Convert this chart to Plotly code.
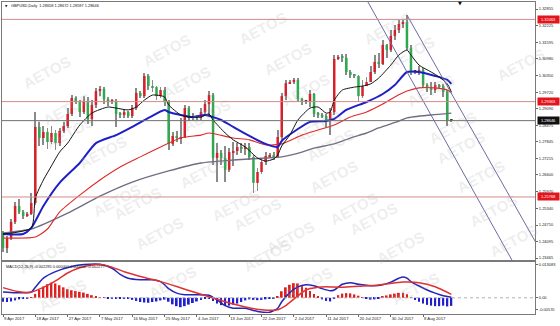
import plotly.graph_objects as go

# ---------------- data ----------------
tick_idx = [0, 8, 16, 24, 32, 40, 48, 56, 64, 72, 80, 88, 96, 104]
tick_text = ["9 Apr 2017", "18 Apr 2017", "27 Apr 2017", "7 May 2017", "16 May 2017",
             "25 May 2017", "4 Jun 2017", "13 Jun 2017", "22 Jun 2017", "2 Jul 2017",
             "11 Jul 2017", "20 Jul 2017", "30 Jul 2017", "8 Aug 2017"]

first_open = 1.2441
closes = [1.2384, 1.2422, 1.2483, 1.2543, 1.2520, 1.2505, 1.2513, 1.2554, 1.2841, 1.2799,
          1.2822, 1.2784, 1.2818, 1.2780, 1.2826, 1.2844, 1.2890, 1.2950, 1.2935, 1.2897,
          1.2939, 1.2871, 1.2924, 1.2976, 1.2984, 1.2946, 1.2935, 1.2939, 1.2890, 1.2886,
          1.2897, 1.2882, 1.2912, 1.2969, 1.2957, 1.3033, 1.2995, 1.2991, 1.2957, 1.2980,
          1.2935, 1.2777, 1.2807, 1.2799, 1.2803, 1.2912, 1.2875, 1.2882, 1.2875, 1.2897,
          1.2927, 1.2961, 1.2724, 1.2743, 1.2724, 1.2679, 1.2746, 1.2750, 1.2765, 1.2758,
          1.2765, 1.2728, 1.2630, 1.2671, 1.2709, 1.2731, 1.2735, 1.2728, 1.2803, 1.2957,
          1.3006, 1.3010, 1.3018, 1.2946, 1.2935, 1.2935, 1.2965, 1.2890, 1.2886, 1.2882,
          1.2863, 1.2897, 1.3097, 1.3105, 1.3101, 1.3048, 1.3037, 1.3033, 1.2957, 1.2995,
          1.3010, 1.3048, 1.3086, 1.3078, 1.3150, 1.3131, 1.3184, 1.3206, 1.3229, 1.3236,
          1.3138, 1.3048, 1.3048, 1.3056, 1.2999, 1.2988, 1.2980, 1.2999, 1.2995, 1.2973,
          1.28658, 1.28646]
highs = [1.2449, 1.2430, 1.2494, 1.2558, 1.2569, 1.2528, 1.2520, 1.2592, 1.2897, 1.2860,
         1.2844, 1.2837, 1.2844, 1.2829, 1.2837, 1.2860, 1.2912, 1.2961, 1.2957, 1.2942,
         1.2957, 1.2954, 1.2942, 1.2988, 1.2995, 1.2991, 1.2954, 1.2946, 1.2946, 1.2897,
         1.2908, 1.2901, 1.2924, 1.2988, 1.2976, 1.3044, 1.3040, 1.3018, 1.2995, 1.2991,
         1.2991, 1.2942, 1.2822, 1.2826, 1.2875, 1.2924, 1.2920, 1.2893, 1.2886, 1.2912,
         1.2942, 1.2976, 1.2969, 1.2780, 1.2754, 1.2769, 1.2761, 1.2784, 1.2780, 1.2780,
         1.2780, 1.2780, 1.2735, 1.2686, 1.2724, 1.2746, 1.2743, 1.2746, 1.2829, 1.2969,
         1.3018, 1.3018, 1.3025, 1.3025, 1.2950, 1.2942, 1.2980, 1.2969, 1.2897, 1.2893,
         1.2890, 1.2912, 1.3112, 1.3112, 1.3116, 1.3116, 1.3056, 1.3040, 1.3037, 1.3018,
         1.3029, 1.3071, 1.3112, 1.3120, 1.3169, 1.3154, 1.3206, 1.3225, 1.3244, 1.3244,
         1.3263, 1.3150, 1.3056, 1.3071, 1.3063, 1.3006, 1.3010, 1.3010, 1.3003, 1.3003,
         1.2980, 1.28672]
lows = [1.2369, 1.2366, 1.2415, 1.2475, 1.2513, 1.2494, 1.2501, 1.2509, 1.2547, 1.2769,
        1.2773, 1.2758, 1.2777, 1.2754, 1.2769, 1.2818, 1.2837, 1.2882, 1.2927, 1.2878,
        1.2890, 1.2852, 1.2844, 1.2912, 1.2957, 1.2927, 1.2920, 1.2927, 1.2841, 1.2875,
        1.2875, 1.2875, 1.2875, 1.2905, 1.2950, 1.2950, 1.2980, 1.2973, 1.2942, 1.2950,
        1.2920, 1.2754, 1.2769, 1.2784, 1.2777, 1.2799, 1.2863, 1.2867, 1.2867, 1.2867,
        1.2882, 1.2886, 1.2697, 1.2633, 1.2697, 1.2633, 1.2671, 1.2694, 1.2735, 1.2743,
        1.2735, 1.2716, 1.2592, 1.2599, 1.2663, 1.2697, 1.2728, 1.2716, 1.2724, 1.2792,
        1.2942, 1.3003, 1.3003, 1.2935, 1.2924, 1.2927, 1.2916, 1.2878, 1.2875, 1.2875,
        1.2837, 1.2810, 1.2886, 1.3093, 1.3086, 1.3037, 1.3025, 1.3025, 1.2935, 1.2950,
        1.2995, 1.3010, 1.3040, 1.3063, 1.3074, 1.3101, 1.3123, 1.3169, 1.3195, 1.3214,
        1.3131, 1.3037, 1.3040, 1.3037, 1.2988, 1.2973, 1.2961, 1.2969, 1.2988, 1.2954,
        1.2844, 1.28597]

black_i = [0, 7, 8, 10, 12, 14, 16, 19, 22, 26, 28, 31, 33, 35, 37, 40, 41, 44, 46, 49,
           51, 52, 55, 57, 60, 63, 65, 67, 68, 69, 71, 73, 76, 78, 80, 81, 82, 84, 87, 89,
           91, 93, 96, 98, 100, 101, 103, 106, 108, 110, 111]
black_v = [1.2437, 1.2460, 1.2573, 1.2641, 1.2694, 1.2746, 1.2780, 1.2848, 1.2893, 1.2916,
           1.2912, 1.2905, 1.2916, 1.2942, 1.2961, 1.2954, 1.2924, 1.2886, 1.2878, 1.2878,
           1.2890, 1.2867, 1.2818, 1.2792, 1.2765, 1.2724, 1.2712, 1.2720, 1.2735, 1.2769,
           1.2810, 1.2867, 1.2912, 1.2916, 1.2893, 1.2897, 1.2942, 1.2980, 1.2991, 1.2995,
           1.3003, 1.3025, 1.3074, 1.3112, 1.3131, 1.3112, 1.3074, 1.3048, 1.3029, 1.3003,
           1.2973]
blue_i = [0, 5, 7, 10, 14, 19, 23, 28, 32, 36, 40, 41, 44, 47, 50, 54, 57, 61, 65, 68,
          69, 73, 76, 80, 82, 85, 90, 94, 97, 100, 103, 107, 110, 111]
blue_v = [1.2437, 1.2437, 1.2460, 1.2543, 1.2630, 1.2705, 1.2780, 1.2810, 1.2841, 1.2875,
          1.2905, 1.2897, 1.2886, 1.2878, 1.2886, 1.2867, 1.2841, 1.2807, 1.2777, 1.2765,
          1.2788, 1.2833, 1.2860, 1.2863, 1.2871, 1.2905, 1.2935, 1.2965, 1.2999, 1.3048,
          1.3048, 1.3033, 1.3018, 1.3003]
red_i = [0, 8, 11, 14, 19, 24, 29, 34, 39, 44, 49, 51, 57, 61, 65, 69, 74, 78, 82, 86,
         90, 94, 97, 100, 103, 107, 110, 111]
red_v = [1.2422, 1.2426, 1.2456, 1.2520, 1.2584, 1.2641, 1.2690, 1.2728, 1.2765, 1.2799,
         1.2810, 1.2818, 1.2799, 1.2792, 1.2773, 1.2777, 1.2810, 1.2829, 1.2848, 1.2878,
         1.2897, 1.2927, 1.2954, 1.2976, 1.2988, 1.2988, 1.2980, 1.2969]
gray_i = [0, 7, 16, 24, 32, 41, 49, 57, 65, 69, 74, 77, 82, 86, 90, 93, 98, 100, 106, 111]
gray_v = [1.2441, 1.2456, 1.2516, 1.2580, 1.2633, 1.2675, 1.2705, 1.2716, 1.2724, 1.2728,
          1.2746, 1.2761, 1.2777, 1.2799, 1.2818, 1.2837, 1.2863, 1.2875, 1.2886, 1.2893]

macd_i = [0, 3, 7, 8, 10, 13, 17, 20, 24, 27, 29, 31, 34, 37, 39, 40, 41, 43, 45, 48,
          51, 53, 55, 57, 60, 63, 66, 68, 69, 71, 73, 75, 77, 79, 81, 82, 84, 86, 88, 90,
          92, 94, 96, 98, 99, 100, 101, 103, 105, 107, 109, 111]
macd_v = [0.0022, 0.0019, 0.0022, 0.0040, 0.0075, 0.0100, 0.0120, 0.0127, 0.0128, 0.0113,
          0.0090, 0.0075, 0.0069, 0.0069, 0.0062, 0.0050, 0.0035, 0.0018, 0.0012, 0.0012,
          0.0010, -0.0008, -0.0030, -0.0040, -0.0040, -0.0052, -0.0055, -0.0040, -0.0015, 0.0020,
          0.0042, 0.0050, 0.0046, 0.0035, 0.0027, 0.0030, 0.0052, 0.0058, 0.0052, 0.0048,
          0.0046, 0.0050, 0.0060, 0.0075, 0.0080, 0.0075, 0.0062, 0.0045, 0.0030, 0.0018,
          0.0008, 0.0002]
sig_i = [0, 4, 7, 10, 13, 16, 19, 23, 26, 30, 35, 39, 43, 47, 51, 55, 60, 64, 68, 70,
         72, 75, 78, 80, 84, 88, 93, 99, 103, 107, 111]
sig_v = [0.0039, 0.0023, 0.0022, 0.0040, 0.0065, 0.0095, 0.0115, 0.0127, 0.0122, 0.0100,
         0.0078, 0.0062, 0.0043, 0.0023, 0.0004, -0.0015, -0.0035, -0.0046, -0.0046, -0.0030,
         -0.0005, 0.0030, 0.0040, 0.0042, 0.0040, 0.0044, 0.0049, 0.0060, 0.0058, 0.0042,
         0.0013]
hist = [-0.0015, -0.0016, -0.0014, -0.0010, -0.0006, -0.0004, -0.0002, 0.0002,
        0.0015, 0.0030, 0.0043, 0.0052, 0.0058, 0.0055, 0.0048, 0.0040, 0.0033, 0.0029,
        0.0026, 0.0023, 0.0020, 0.0015, 0.0010, 0.0006, 0.0003, 0.0001,
        -0.0001, -0.0002, -0.0003, -0.0003, -0.0003, -0.0004, -0.0008, -0.0012, -0.0016,
        -0.0018, -0.0019, -0.0016, -0.0014, -0.0010, -0.0007,
        -0.0015, -0.0025, -0.0032, -0.0036, -0.0032, -0.0026, -0.0020, -0.0014, -0.0008,
        -0.0005, -0.0002,
        -0.0012, -0.0022, -0.0028, -0.0031, -0.0030, -0.0026, -0.0022, -0.0016, -0.0010,
        -0.0006, -0.0008, -0.0009, -0.0008, -0.0006, -0.0004, -0.0002,
        0.0006, 0.0025, 0.0040, 0.0050, 0.0056, 0.0055, 0.0048, 0.0038, 0.0026, 0.0015,
        0.0005, -0.0006, -0.0012, -0.0014,
        -0.0003, 0.0010, 0.0016, 0.0018, 0.0017, 0.0013, 0.0008, 0.0003, -0.0004, -0.0007,
        -0.0006, -0.0003,
        0.0004, 0.0009, 0.0013, 0.0016, 0.0019, 0.0019, 0.0014, 0.0002, -0.0008, -0.0015,
        -0.0022, -0.0027, -0.0030, -0.0032, -0.0032, -0.0030, -0.0033, -0.0031]

price_ticks = [1.23465, 1.24095, 1.24710, 1.25340, 1.25970, 1.26600, 1.27215, 1.27845,
               1.28475, 1.29090, 1.29720, 1.30350, 1.30980, 1.31595, 1.32225, 1.32855]
red_levels = [1.32463, 1.29363, 1.25768]
bid_level = 1.28646
chan_a_x = [89.5, 126.5]
chan_a_y = [1.3335, 1.2325]
chan_b_x = [100.0, 135.0]
chan_b_y = [1.3263, 1.2322]
macd_ticks = [0.0126, 0.0, -0.0046]
macd_tick_text = ["0.013083", "0.00", "-0.00570"]

title_text = "GBPUSD,Daily  1.28658 1.28672 1.28597 1.28646"
macd_text = "MACD(12,26,9) -0.002295 0.000000 0.000000 -0.002277"

# ---------------- layout geometry ----------------
W, H = 560, 326
ML, MR, MT, MB = 2, 25, 2, 12
PW, PH = W - ML - MR, H - MT - MB


def px2paper(px):
    return (px - ML) / PW


def py2paper(py):
    return (H - MB - py) / PH


main_dom = [py2paper(260), 1.0]
macd_dom = [0.0, py2paper(262)]
xrange_ = [-0.25, 131.7]

FONT = "Liberation Sans, Arial, sans-serif"

fig = go.Figure()
idx = list(range(len(closes)))
opens = [first_open] + closes[:-1]

# wicks
fig.add_trace(go.Bar(x=idx, y=[h - l for h, l in zip(highs, lows)], base=lows, width=0.22,
                     marker=dict(color="#8a8a8a", line=dict(width=0)),
                     xaxis="x", yaxis="y", hoverinfo="skip"))
# bodies
body_base = [min(o, c) for o, c in zip(opens, closes)]
body_h = [max(abs(c - o), 0.0004) for o, c in zip(opens, closes)]
body_col = []
for o, c in zip(opens, closes):
    if c - o > 0.0002:
        body_col.append("#d6212b")
    elif o - c > 0.0002:
        body_col.append("#2fa84f")
    else:
        body_col.append("#3a3a3a")
fig.add_trace(go.Bar(x=idx, y=body_h, base=body_base, width=0.62,
                     marker=dict(color=body_col, line=dict(width=0)),
                     xaxis="x", yaxis="y", hoverinfo="skip"))

# moving averages
for xs, ys, col, wid in [(gray_i, gray_v, "#6e6e84", 1.4), (red_i, red_v, "#e02828", 1.1),
                         (blue_i, blue_v, "#1f1fc8", 2.0), (black_i, black_v, "#111111", 1.0)]:
    fig.add_trace(go.Scatter(x=xs, y=ys, mode="lines",
                             line=dict(color=col, width=wid, shape="spline", smoothing=0.6),
                             xaxis="x", yaxis="y", hoverinfo="skip"))

# channel lines
for xs, ys in [(chan_a_x, chan_a_y), (chan_b_x, chan_b_y)]:
    fig.add_trace(go.Scatter(x=xs, y=ys, mode="lines", line=dict(color="#6b6ba6", width=1),
                             xaxis="x", yaxis="y", hoverinfo="skip"))

# MACD panel
fig.add_trace(go.Bar(x=idx, y=hist, width=0.45,
                     marker=dict(color=["#e02020" if v > 0 else "#2020d0" for v in hist],
                                 line=dict(width=0)),
                     xaxis="x2", yaxis="y2", hoverinfo="skip"))
fig.add_trace(go.Scatter(x=macd_i, y=macd_v, mode="lines",
                         line=dict(color="#2525b8", width=1.5, shape="spline", smoothing=0.6),
                         xaxis="x2", yaxis="y2", hoverinfo="skip"))
fig.add_trace(go.Scatter(x=sig_i, y=sig_v, mode="lines",
                         line=dict(color="#e03030", width=1.5, shape="spline", smoothing=0.6),
                         xaxis="x2", yaxis="y2", hoverinfo="skip"))

shapes = []
for lv in red_levels:
    shapes.append(dict(type="line", xref="paper", x0=0, x1=1, yref="y", y0=lv, y1=lv,
                       line=dict(color="#d48a8a", width=1)))
shapes.append(dict(type="line", xref="paper", x0=0, x1=1, yref="y", y0=bid_level, y1=bid_level,
                   line=dict(color="#707070", width=1)))
shapes.append(dict(type="line", xref="paper", x0=0, x1=1, yref="y2", y0=0, y1=0,
                   line=dict(color="#b0b0b0", width=1, dash="dot")))

annotations = []
# watermark
wm = [(17, 50), (37, 87), (40, 132), (73, 152), (137, 28), (157, 60), (177, 93),
      (262, 6), (287, 37), (305, 68), (317, 105), (330, 145), (417, 6), (440, 30),
      (460, 68), (482, 105), (490, 147), (550, 42), (203, 172), (235, 205), (257, 237),
      (267, 278), (87, 200), (108, 226), (130, 256), (143, 305), (13, 280), (33, 318),
      (363, 176), (383, 208), (403, 241), (430, 270), (445, 311), (290, 260), (308, 306),
      (510, 176), (523, 233), (543, 263)]
for px, py in wm:
    annotations.append(dict(x=px2paper(px), y=py2paper(py), xref="paper", yref="paper",
                            text="<b>AETOS</b>", showarrow=False, textangle=-28,
                            font=dict(family=FONT, size=15, color="rgba(165,165,165,0.20)")))

annotations.append(dict(x=px2paper(9), y=py2paper(6), xref="paper", yref="paper",
                        xanchor="left", yanchor="middle", text=title_text, showarrow=False,
                        font=dict(family=FONT, size=3.9, color="#111")))
annotations.append(dict(x=px2paper(3), y=py2paper(6), xref="paper", yref="paper",
                        xanchor="left", yanchor="middle", text="▼", showarrow=False,
                        font=dict(family="DejaVu Sans", size=3, color="#111")))
annotations.append(dict(x=px2paper(4), y=py2paper(266.5), xref="paper", yref="paper",
                        xanchor="left", yanchor="middle", text=macd_text, showarrow=False,
                        font=dict(family=FONT, size=3.9, color="#111")))
annotations.append(dict(x=px2paper(460), y=py2paper(3), xref="paper", yref="paper",
                        xanchor="center", yanchor="middle", text="▼", showarrow=False,
                        font=dict(family="DejaVu Sans", size=5, color="#111")))
for lv in red_levels:
    annotations.append(dict(x=1, y=lv, xref="paper", yref="y", xanchor="left", yanchor="middle",
                            xshift=1.5, text=f"{lv:.5f}", showarrow=False, width=21, height=7,
                            bgcolor="#e3141c", borderpad=0,
                            font=dict(family=FONT, size=4, color="white")))
annotations.append(dict(x=1, y=bid_level, xref="paper", yref="y", xanchor="left",
                        yanchor="middle", xshift=1.5, text=f"{bid_level:.5f}", showarrow=False,
                        width=21, height=7, bgcolor="#111111", borderpad=0,
                        font=dict(family=FONT, size=4, color="white")))

axis_common = dict(showgrid=False, zeroline=False, showline=True, linecolor="#7a7a7a",
                   linewidth=1, mirror=True)

fig.update_layout(
    width=W, height=H, margin=dict(l=ML, r=MR, t=MT, b=MB, pad=0),
    paper_bgcolor="white", plot_bgcolor="white", showlegend=False,
    barmode="overlay", hovermode=False,
    xaxis=dict(domain=[0, 1], range=xrange_, anchor="y", showticklabels=False, ticks="",
               **axis_common),
    yaxis=dict(domain=main_dom, range=[1.23392, 1.33119], side="right", anchor="x",
               tickvals=price_ticks, ticktext=[f"{v:.5f}" for v in price_ticks],
               tickfont=dict(family=FONT, size=4, color="#222"), ticks="outside", ticklen=2,
               tickcolor="#666", **axis_common),
    xaxis2=dict(domain=[0, 1], range=xrange_, anchor="y2", matches="x",
                tickvals=tick_idx, ticktext=tick_text, ticklabelposition="outside right",
                tickangle=0, ticks="outside", ticklen=2, tickcolor="#666",
                tickfont=dict(family=FONT, size=4.2, color="#222"), **axis_common),
    yaxis2=dict(domain=macd_dom, range=[-0.0062, 0.0137], side="right", anchor="x2",
                tickvals=macd_ticks, ticktext=macd_tick_text, ticks="outside", ticklen=2,
                tickcolor="#666", tickfont=dict(family=FONT, size=4, color="#222"),
                **axis_common),
    shapes=shapes, annotations=annotations,
)

fig.write_html("out.html")
